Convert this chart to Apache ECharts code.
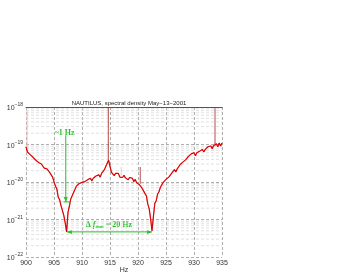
<!DOCTYPE html>
<html><head><meta charset="utf-8">
<script src="https://cdn.jsdelivr.net/npm/echarts@6/dist/echarts.min.js"></script>
<style>html,body{margin:0;padding:0;background:#fff}#c{width:338px;height:275px}</style>
</head><body><div id="c"></div>
<script>
// frequency grid of the trace (Hz)
const fStart = 900, fStep = 0.25;
// log10 of spectral density (1/sqrt(Hz))
const logDensity = [
-19.06,-19.20,-19.18,-19.27,-19.25,-19.34,-19.30,-19.42,-19.40,-19.48,
-19.43,-19.52,-19.52,-19.63,-19.58,-19.65,-19.63,-19.75,-19.71,-19.87,
-19.91,-20.11,-20.18,-20.40,-20.47,-20.63,-20.68,-20.89,-21.09,-21.33,
-20.81,-20.64,-20.45,-20.43,-20.28,-20.23,-20.11,-20.15,-20.04,-20.09,
-20.01,-20.06,-19.99,-20.04,-19.94,-19.97,-19.90,-19.97,-19.90,-19.92,
-19.84,-19.88,-19.81,-19.87,-19.77,-19.77,-19.67,-19.67,-19.50,-19.42,
-19.58,-19.74,-19.73,-19.83,-19.77,-19.82,-19.77,-19.87,-19.83,-19.88,
-19.82,-19.89,-19.85,-19.94,-19.88,-19.93,-19.90,-19.99,-19.93,-20.02,
-19.98,-20.07,-20.05,-20.17,-20.17,-20.31,-20.37,-20.59,-20.71,-20.98,
-21.30,-20.92,-20.57,-20.50,-20.32,-20.26,-20.14,-20.15,-20.01,-20.03,
-19.93,-19.96,-19.87,-19.89,-19.77,-19.77,-19.67,-19.73,-19.65,-19.65,
-19.54,-19.56,-19.47,-19.51,-19.41,-19.41,-19.32,-19.36,-19.25,-19.30,
-19.22,-19.30,-19.22,-19.27,-19.18,-19.21,-19.13,-19.20,-19.13,-19.15,
-19.06,-19.10,-19.04,-19.11,-19.03,-19.05,-18.98,-19.06,-18.96,-19.04,
-18.96
];
// narrow lines (spikes) in the spectrum
const spikeFreq    = [900.2, 910.2, 914.7, 917.0, 920.4, 933.75];
const spikeBaseLog = [-19.15, -20.0, -19.45, -19.83, -20.05, -19.05];
const spikeTopLog  = [-18.1, -19.45, -18.0, -19.6, -19.6, -18.03];
const spikeFaint   = [true, true, false, true, false, false];
// log grid
const decadeExp = [-22, -21, -20, -19];
const minorMult = [2, 3, 4, 5, 6, 7, 8, 9];
const yMinExp = -22, yMaxExp = -18;
// annotations (data coordinates)
const widthArrowF = 907.1, widthArrowTopLog = -18.75, widthArrowBotLog = -20.53;
const widthBar = [906.7, 908.0];
const sepArrow = [907.3, 922.5], sepArrowLog = -21.33;
const widthText = {f: 906.9, log: -18.68, text: '~1 Hz'};
const sepText = {f: 914.8, log: -21.15};

// values are plotted in units of 1e-22 (ECharts log scale dislikes tiny magnitudes)
const P = v => Math.pow(10, v - yMinExp);
const trace = logDensity.map((v, i) => [fStart + i * fStep, P(v)]);

const green = '#22c322';
const series = [];
decadeExp.forEach(d => minorMult.forEach(m => {
  series.push({ type: 'line', symbol: 'none', silent: true, animation: false, z: 1,
    lineStyle: {color: '#d2d2d2', type: [3, 2], width: 0.7},
    data: [[900, m * P(d)], [935, m * P(d)]] });
}));
spikeFreq.forEach((f, i) => {
  series.push({
    type: 'line', symbol: 'none', animation: false, silent: true,
    lineStyle: {color: spikeFaint[i] ? '#f4b6b6' : '#a52020', width: 0.8},
    data: [[f, P(spikeBaseLog[i])], [f, P(spikeTopLog[i])]]
  });
});
series.push({
  type: 'line', symbol: 'none', animation: false, silent: true,
  lineStyle: {color: '#ff1010', width: 1.2}, data: trace
});
series.push({
  type: 'line', symbol: 'none', animation: false, silent: true,
  lineStyle: {color: '#a00000', width: 0.5}, data: trace
});
series.push({ type: 'line', symbol: 'none', animation: false, silent: true,
  lineStyle: {color: green, width: 1},
  data: [[widthArrowF, P(widthArrowTopLog)], [widthArrowF, P(widthArrowBotLog)]] });
series.push({ type: 'line', symbol: 'none', animation: false, silent: true,
  lineStyle: {color: green, width: 1},
  data: [[widthBar[0], P(widthArrowBotLog)], [widthBar[1], P(widthArrowBotLog)]] });
series.push({ type: 'line', symbol: 'none', animation: false, silent: true,
  lineStyle: {color: green, width: 1},
  data: [[sepArrow[0], P(sepArrowLog)], [sepArrow[1], P(sepArrowLog)]] });

const chart = echarts.init(document.getElementById('c'), null, {renderer: 'canvas'});
const lblFont = 'Liberation Sans, Arial, sans-serif';
chart.setOption({
  animation: false,
  backgroundColor: '#fff',
  title: { text: 'NAUTILUS, spectral density May\u221213\u22122001', left: 124, top: 95, textAlign: 'center',
    textStyle: {fontSize: 6, fontWeight: 'normal', color: '#222', fontFamily: lblFont} },
  grid: { left: 26, right: 116, top: 107, bottom: 18, containLabel: false, outerBoundsMode: 'none' },
  xAxis: [{
    type: 'value', min: 900, max: 935, interval: 5,
    axisLine: {show: false}, axisTick: {show: false},
    axisLabel: {fontSize: 7, color: '#333', margin: 3, fontFamily: lblFont},
    splitLine: {show: true, lineStyle: {color: '#999', type: [3, 2], width: 0.8}}
  }, {
    type: 'value', min: 900, max: 935, position: 'top',
    axisLine: {show: true, onZero: false, lineStyle: {color: '#555', width: 1}},
    axisTick: {show: false}, axisLabel: {show: false}, splitLine: {show: false}
  }],
  yAxis: {
    type: 'log', logBase: 10, min: P(yMinExp), max: P(yMaxExp), splitNumber: 4,
    name: '1/\u221AHz', nameLocation: 'middle', nameGap: 16,
    nameTextStyle: {fontSize: 7, color: '#333', fontFamily: lblFont},
    axisLine: {show: false}, axisTick: {show: false},
    axisLabel: {
      margin: 3, fontFamily: lblFont,
      formatter: v => '{b|10}{s|\u2212' + (-(Math.round(Math.log10(v)) + yMinExp)) + '}',
      rich: { b: {fontSize: 7, color: '#333', fontFamily: lblFont, padding: [3, 0, 0, 0]},
              s: {fontSize: 5, color: '#333', fontFamily: lblFont, padding: [0, 0, 4, 0]} }
    },
    splitLine: {show: true, lineStyle: {color: '#999', type: [3, 2], width: 0.8}}
  },
  series: series
});

const cp = (f, l) => chart.convertToPixel({xAxisIndex: 0, yAxisIndex: 0}, [f, P(l)]);
const p1 = cp(widthText.f, widthText.log);
const p2 = cp(sepText.f, sepText.log);
const pa = cp(widthArrowF, widthArrowBotLog);
const pl = cp(sepArrow[0], sepArrowLog);
const pr = cp(sepArrow[1], sepArrowLog);
const pHz = cp(917.5, yMinExp);
chart.setOption({
  graphic: [
    { type: 'text', x: pHz[0], y: pHz[1] + 13, silent: true,
      style: { text: 'Hz', fill: '#333', font: '7px "Liberation Sans", Arial, sans-serif', align: 'center', verticalAlign: 'middle' } },
    { type: 'text', x: p1[0], y: p1[1], silent: true,
      style: { text: widthText.text, fill: green, font: 'bold 8px "Liberation Serif", serif', align: 'center', verticalAlign: 'middle' } },
    { type: 'text', x: p2[0], y: p2[1], silent: true,
      style: { text: '{a|\u0394 }{i|f}{s|mm}{a| = 20 Hz}', align: 'center', verticalAlign: 'middle',
        rich: { a: {fill: green, fontSize: 8, fontWeight: 'bold', fontFamily: 'Liberation Serif'},
                i: {fill: green, fontSize: 8, fontWeight: 'bold', fontStyle: 'italic', fontFamily: 'Liberation Serif'},
                s: {fill: green, fontSize: 5, fontWeight: 'bold', fontFamily: 'Liberation Serif', padding: [4, 0, 0, 0]} } } },
    { type: 'polygon', silent: true, shape: {points: [[pa[0] - 2, pa[1] - 5], [pa[0] + 2, pa[1] - 5], [pa[0], pa[1]]]}, style: {fill: green} },
    { type: 'polygon', silent: true, shape: {points: [[pl[0] + 5, pl[1] - 2], [pl[0] + 5, pl[1] + 2], [pl[0], pl[1]]]}, style: {fill: green} },
    { type: 'polygon', silent: true, shape: {points: [[pr[0] - 5, pr[1] - 2], [pr[0] - 5, pr[1] + 2], [pr[0], pr[1]]]}, style: {fill: green} }
  ]
});
</script>
</body></html>
